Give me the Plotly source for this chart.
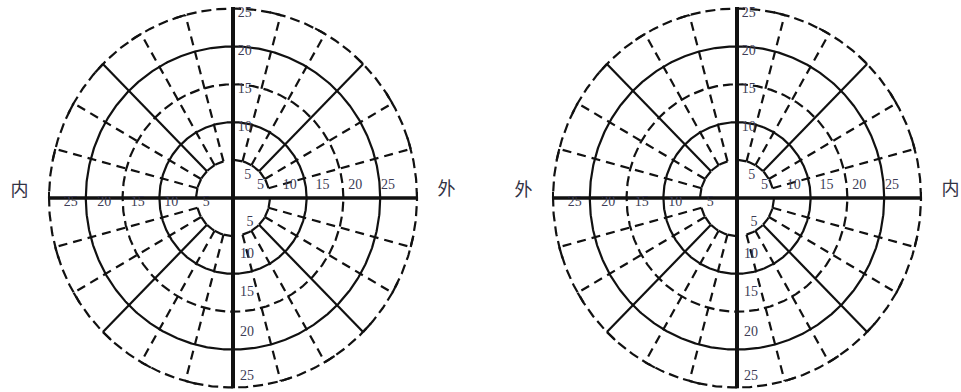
import numpy as np
import plotly.graph_objects as go

# ---- data ----
TICK_VALUES = [5, 10, 15, 20, 25]
TICK_LABELS = ["5", "10", "15", "20", "25"]
SOLID_CIRCLES = [10, 20]
DASHED_CIRCLES = [15, 25]
SOLID_SPOKES = [45, 135, 225, 315]
DASHED_SPOKES = [15, 30, 60, 75, 105, 120, 150, 165, 195, 210, 240, 255, 285, 300, 330, 345]
SPOKE_INNER = 5
SPOKE_OUTER = 25
LEFT_SIDE_LABELS = ["内", "外"]   # left chart: left label, right label
RIGHT_SIDE_LABELS = ["外", "内"]  # right chart

# ---- styling / layout ----
W, H = 961, 392
SX = 184 / 25.0   # px per unit horizontally
SY = 7.58         # px per unit vertically
INK = "#111111"
NUM_COLOR = "#3c3c55"
NUM_FONT = dict(family="Liberation Serif, serif", size=14, color=NUM_COLOR)
CJK_FONT = dict(family="Noto Sans CJK SC, sans-serif", size=18, color="#333344")
DASH = "10px,5px"


def circle_xy(r):
    t = np.linspace(0, 2 * np.pi, 721)
    return list(r * np.cos(t)), list(r * np.sin(t))


def spokes_xy(angles):
    xs, ys = [], []
    for a in angles:
        th = np.radians(a)
        xs += [SPOKE_INNER * np.cos(th), SPOKE_OUTER * np.cos(th), None]
        ys += [SPOKE_INNER * np.sin(th), SPOKE_OUTER * np.sin(th), None]
    return xs, ys


def caps_xy(angles, r, span_deg):
    xs, ys = [], []
    for a in angles:
        t = np.radians(np.linspace(a, a + span_deg, 6))
        xs += list(r * np.cos(t)) + [None]
        ys += list(r * np.sin(t)) + [None]
    return xs, ys


def chart_traces(xa, ya, side_labels):
    tr = []
    line = lambda x, y, w, dash=None: go.Scatter(
        x=x, y=y, mode="lines", xaxis=xa, yaxis=ya, hoverinfo="skip",
        line=dict(color=INK, width=w, dash=dash), showlegend=False)
    for r in SOLID_CIRCLES:
        x, y = circle_xy(r)
        tr.append(line(x, y, 2.2))
    for r in DASHED_CIRCLES:
        x, y = circle_xy(r)
        tr.append(line(x, y, 2.2, DASH))
    x, y = spokes_xy(SOLID_SPOKES)
    tr.append(line(x, y, 2.2))
    x, y = spokes_xy(DASHED_SPOKES)
    tr.append(line(x, y, 2.2, "9px,6px"))
    # small caps at the spoke ends
    allsp = SOLID_SPOKES + DASHED_SPOKES
    x, y = caps_xy(allsp, SPOKE_OUTER, 3.5)
    tr.append(line(x, y, 2.2))
    x, y = caps_xy(allsp, SPOKE_INNER, 14)
    tr.append(line(x, y, 2.2))
    # main axes
    tr.append(line([-SPOKE_OUTER, SPOKE_OUTER], [0, 0], 3.5))
    tr.append(line([0, 0], [-25.1, 25.2], 4))
    tr.append(line([-SPOKE_OUTER, -SPOKE_OUTER], [0, 0.8], 2))
    tr.append(line([SPOKE_OUTER, SPOKE_OUTER], [0, 0.8], 2))
    # tick labels
    v = np.array(TICK_VALUES, dtype=float)
    top_x = np.where(v == 5, 2.0, 1.6)
    top_y = np.where(v == 5, 3.0, v - 0.7)
    right_x = 0.89 * v - 1.2 + np.where(v == 5, 0.5, 0)
    right_y = np.full_like(v, 1.7)
    left_x = -(0.91 * v - 0.7) + np.where(v == 5, 0.2, 0)
    left_y = np.full_like(v, -0.55)
    bot_x = np.where(v == 5, 2.3, 1.9)
    bot_y = -(np.array([3.2, 7.5, 12.5, 17.8, 23.6]))
    xs = list(top_x) + list(right_x) + list(left_x) + list(bot_x)
    ys = list(top_y) + list(right_y) + list(left_y) + list(bot_y)
    tr.append(go.Scatter(x=xs, y=ys, text=TICK_LABELS * 4, mode="text",
                         xaxis=xa, yaxis=ya, textfont=NUM_FONT,
                         hoverinfo="skip", showlegend=False))
    tr.append(go.Scatter(x=[-29.0, 29.0], y=[0.8, 1.0], text=side_labels,
                         mode="text", xaxis=xa, yaxis=ya, textfont=CJK_FONT,
                         hoverinfo="skip", showlegend=False))
    return tr


fig = go.Figure()
for t in chart_traces("x", "y", LEFT_SIDE_LABELS):
    fig.add_trace(t)
for t in chart_traces("x2", "y2", RIGHT_SIDE_LABELS):
    fig.add_trace(t)

split = 480 / W
cx_left, cx_right, cy = 233, 737, 198
ax_common = dict(visible=False, showgrid=False, zeroline=False, fixedrange=True)
fig.update_layout(
    width=W, height=H,
    margin=dict(l=0, r=0, t=0, b=0),
    paper_bgcolor="white", plot_bgcolor="white",
    showlegend=False,
    xaxis=dict(domain=[0, split], range=[-cx_left / SX, (480 - cx_left) / SX], **ax_common),
    yaxis=dict(domain=[0, 1], range=[-(H - cy) / SY, cy / SY], **ax_common),
    xaxis2=dict(domain=[split, 1], range=[(480 - cx_right) / SX, (W - cx_right) / SX], **ax_common),
    yaxis2=dict(domain=[0, 1], anchor="x2", range=[-(H - cy) / SY, cy / SY], **ax_common),
)
fig.write_html("out.html", config={"displayModeBar": False},
               post_script="document.body.style.margin='0';document.body.style.overflow='hidden';")
